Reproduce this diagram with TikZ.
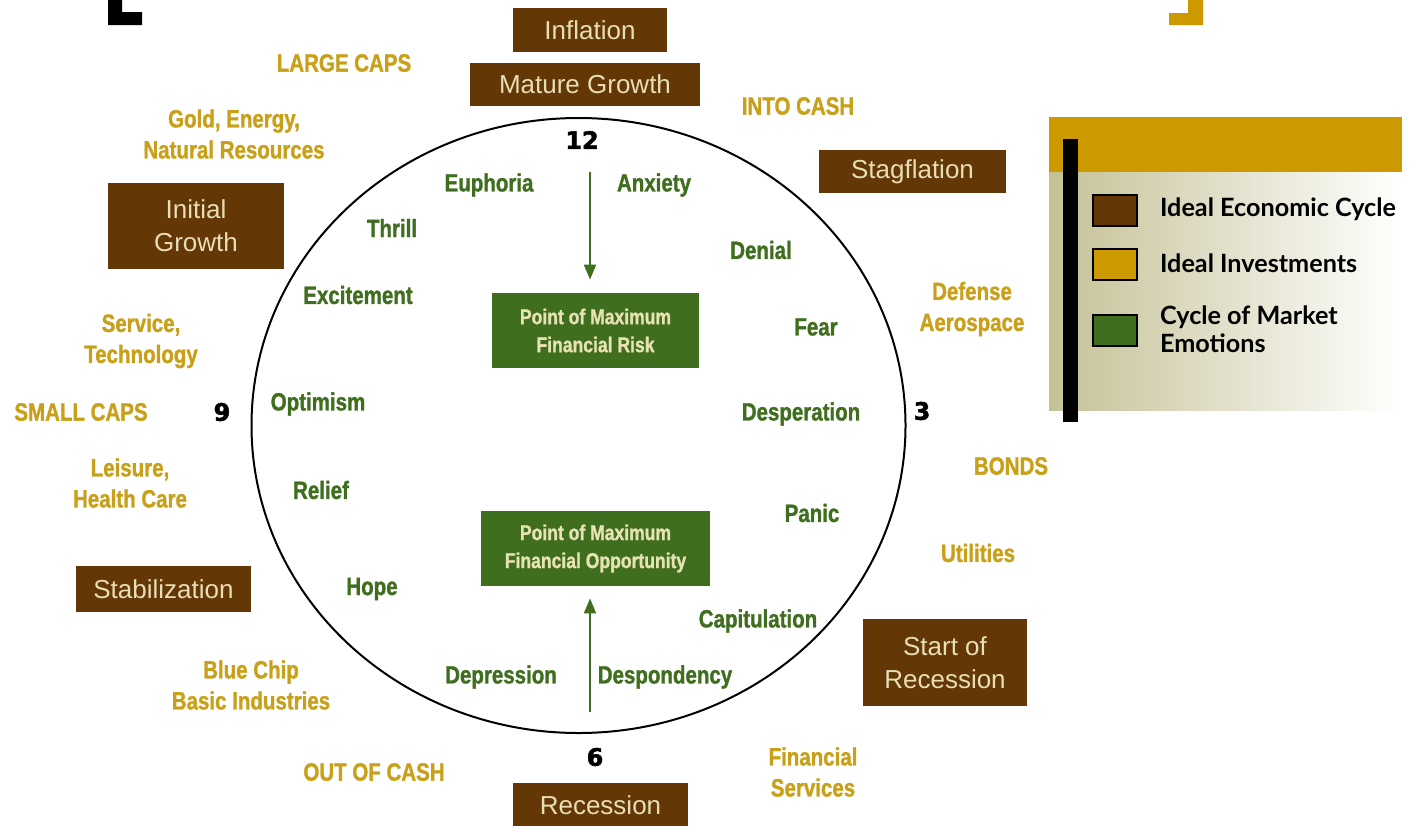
\documentclass[tikz,border=0pt]{standalone}
\usepackage{fontspec}
\setmainfont{Liberation Sans}
\newfontfamily\condfont[FakeStretch=0.82,BoldFeatures={FakeBold=1.2}]{Liberation Sans}
\newfontfamily\legendfont{Lato}
\newfontfamily\numfont[BoldFeatures={FakeBold=2}]{DejaVu Sans}
\usetikzlibrary{arrows.meta,positioning,calc}
\definecolor{ecobrown}{HTML}{633806}
\definecolor{boxtext}{HTML}{E8DDB5}
\definecolor{investgold}{HTML}{C9A019}
\definecolor{emogreen}{HTML}{3F6E1E}
\definecolor{legendgold}{HTML}{CC9900}
\definecolor{legendtan}{HTML}{C5C196}
\definecolor{risktext}{HTML}{E6E2B4}
\tikzset{
	ecobox/.style={fill=ecobrown,text=boxtext,inner sep=0pt,align=center,font=\fontsize{13}{16.5}\selectfont},
	investtext/.style={text=investgold,align=center,font=\condfont\bfseries\fontsize{12.5}{15.5}\selectfont},
	emotext/.style={text=emogreen,align=center,font=\condfont\bfseries\fontsize{12.5}{15.5}\selectfont},
	riskbox/.style={fill=emogreen,text=risktext,inner sep=0pt,align=center,font=\condfont\bfseries\fontsize{10.7}{14}\selectfont},
	clocknum/.style={font=\numfont\bfseries\fontsize{12}{14}\selectfont},
	swatch/.style={draw=black,line width=0.6pt,minimum width=22pt,minimum height=15.5pt,inner sep=0pt},
	legendtext/.style={anchor=west,align=left,font=\legendfont\bfseries\fontsize{12.6}{14}\selectfont},
	emoarrow/.style={draw=emogreen,line width=1pt,-{Triangle[length=7.5pt,width=6pt]}},
}
\begin{document}
\begin{tikzpicture}[x=0.5pt,y=-0.5pt]
\useasboundingbox (0,0) rectangle (1416,825);
% corner brackets
\fill[black] (108,0) rectangle (122,25) (108,12) rectangle (142,25);
\fill[legendgold] (1188,0) rectangle (1203,25) (1169,13) rectangle (1203,25);
% clock face
\draw[line width=1pt] (578.5,425.5) ellipse [x radius=327,y radius=307.5];
\node[clocknum] (n12) at (582,140) {12};
\node[clocknum] (n3) at (922,411) {3};
\node[clocknum] (n6) at (595,757) {6};
\node[clocknum] (n9) at (222,412) {9};
% economic cycle
\node[ecobox,minimum width=77pt,minimum height=22pt] (inflation) at (590,30) {Inflation};
\node[ecobox,minimum width=115pt,minimum height=21.5pt] (mature) at (585,84.5) {Mature Growth};
\node[ecobox,minimum width=93.5pt,minimum height=21.5pt] (stagflation) at (912.5,171.5) {Stagflation};
\node[ecobox,minimum width=82pt,minimum height=43.5pt] (startrec) at (945,662.5) {Start of\\Recession};
\node[ecobox,minimum width=87.5pt,minimum height=22pt] (recession) at (600.5,805) {Recession};
\node[ecobox,minimum width=87.5pt,minimum height=23pt] (stabil) at (163.5,589) {Stabilization};
\node[ecobox,minimum width=88pt,minimum height=43pt] (initial) at (196,226) {Initial\\Growth};
% ideal investments
\node[investtext] (largecaps) at (344,63) {LARGE CAPS};
\node[investtext] (intocash) at (798,106) {INTO CASH};
\node[investtext] (defense) at (972,309) {Defense\\Aerospace};
\node[investtext] (bonds) at (1011,466) {BONDS};
\node[investtext] (utilities) at (978,553) {Utilities};
\node[investtext] (finserv) at (813,772) {Financial\\Services};
\node[investtext] (outcash) at (374,772) {OUT OF CASH};
\node[investtext] (bluechip) at (251,685) {Blue Chip\\Basic Industries};
\node[investtext] (leisure) at (130,483) {Leisure,\\Health Care};
\node[investtext] (smallcaps) at (81,412) {SMALL CAPS};
\node[investtext] (service) at (141,341) {Service,\\Technology};
\node[investtext] (gold) at (234,134) {Gold, Energy,\\Natural Resources};
% market emotions
\node[emotext] (euphoria) at (489,185) {Euphoria};
\node[emotext] (anxiety) at (654,185) {Anxiety};
\node[emotext] (thrill) at (392,228) {Thrill};
\node[emotext] (denial) at (761,250) {Denial};
\node[emotext] (excite) at (358,295) {Excitement};
\node[emotext] (fear) at (816,327) {Fear};
\node[emotext] (optimism) at (318,404) {Optimism};
\node[emotext] (desperation) at (801,414) {Desperation};
\node[emotext] (relief) at (321,490) {Relief};
\node[emotext] (panic) at (812,513) {Panic};
\node[emotext] (hope) at (372,589) {Hope};
\node[emotext] (capitulation) at (758,621) {Capitulation};
\node[emotext] (depression) at (501,677) {Depression};
\node[emotext] (despondency) at (665,677) {Despondency};
\node[riskbox,minimum width=103.5pt,minimum height=37.5pt] (risk) at (595.5,330.5) {Point of Maximum\\Financial Risk};
\node[riskbox,minimum width=114.5pt,minimum height=37.5pt] (opport) at (595.5,548.5) {Point of Maximum\\Financial Opportunity};
\coordinate (topstart) at (590,172);
\coordinate (botstart) at (590,712);
\draw[emoarrow,shorten >=6.5pt] (topstart) -- (topstart|-risk.north);
\draw[emoarrow,shorten >=6pt] (botstart) -- (botstart|-opport.south);
% legend
\fill[legendgold] (1049,117) rectangle (1402,172);
\shade[left color=legendtan,right color=white] (1049,172) rectangle (1402,410);
\fill[black] (1063,139) rectangle (1078,422);
\node[swatch,fill=ecobrown] (keyeco) at (1115,210.5) {};
\node[swatch,fill=legendgold] (keyinv) at (1115,264.5) {};
\node[swatch,fill=emogreen] (keyemo) at (1115,330.5) {};
\node[legendtext] (labeco) at (1153,209) {Ideal Economic Cycle};
\node[legendtext] (labinv) at (1153,263) {Ideal Investments};
\node[legendtext] (labemo) at (1153,329) {Cycle of Market\\Emotions};
\end{tikzpicture}
\end{document}
